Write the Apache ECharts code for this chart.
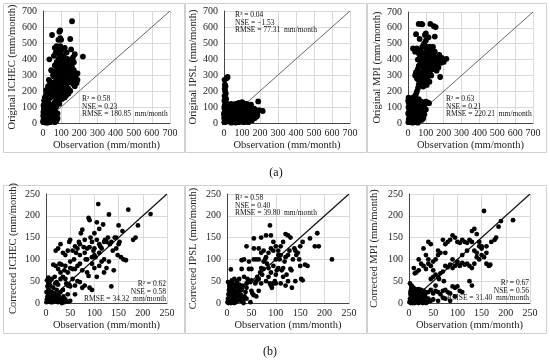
<!DOCTYPE html>
<html><head><meta charset="utf-8">
<script src="https://cdn.jsdelivr.net/npm/echarts@6/dist/echarts.min.js"></script>
<style>html,body{margin:0;padding:0;background:#fff}#c{width:550px;height:363px}</style>
</head><body><div id="c"></div>
<script>
// ---- Data (mm/month) ----
const topTicks = [0,100,200,300,400,500,600,700];
const bottomTicks = [0,50,100,150,200,250];
const oneToOneTop = [[0,0],[700,700]];
const oneToOneBottom = [[0,0],[250,250]];

const originalICHEC = [
[2,5],[3,20],[5,40],[4,60],[6,80],[8,100],[3,110],[10,10],[12,30],[14,50],[10,70],[15,90],[18,115],[20,8],[22,25],[25,45],[20,65],[28,85],[30,105],[32,15],[35,35],[38,55],[40,75],[42,95],[45,20],[48,40],[50,60],[55,30],[60,25],[65,35],[70,20],[58,50],[52,80],[46,110],[35,120],[25,125],[15,130],[8,120],[5,90],[2,70],[1,45],[7,30],[12,5],[18,2],[28,3],[40,5],[1,10],[6,140],[10,160],[14,150],[20,180],[25,170],[30,140],[35,190],[40,160],[45,175],[50,200],[55,185],[60,165],[48,220],[42,240],[38,260],[32,270],[50,250],[55,230],[60,215],[65,240],[70,195],[75,180],[80,210],[85,225],[90,200],[95,180],[100,165],[110,190],[120,160],[130,175],[140,185],[150,200],[65,130],[75,150],[85,140],[62,110],[72,100],[95,150],[75,15],[80,30],[65,5],[30,60],[22,100],[12,85],[38,85],[55,100],[68,70],[80,60],[90,120],[105,150],[115,210],[125,200],[140,215],[105,225],[28,230],[18,205],
[60,290],[70,310],[75,330],[80,280],[85,350],[90,300],[95,270],[100,320],[105,345],[110,300],[115,280],[120,330],[125,310],[130,360],[135,290],[140,340],[145,300],[150,320],[155,280],[160,350],[165,300],[170,330],[175,260],[180,290],[190,310],[190,270],[185,250],[175,230],[165,245],[150,255],[140,260],[130,240],[120,250],[110,260],[100,240],[90,250],[80,240],[70,260],[65,360],[75,380],[85,400],[95,370],[105,390],[115,420],[125,380],[135,400],[145,370],[155,390],[165,410],[175,430],[220,415],[60,420],[70,440],[80,460],[90,430],[100,450],[110,410],[120,470],[130,440],[95,480],[75,480],[65,470],[85,520],[95,530],[100,520],[90,570],[95,578],[50,550],[150,525],[155,460],[160,636],[35,398],[120,345],[140,310],[110,355],[85,320],[90,340],[100,290],[130,330],[145,350],[170,380],[60,320],[55,300],[45,330]
];
const originalIPSL = [
[3,270],[20,288],[15,280],[5,240],[8,230],[4,215],[6,200],[10,185],[3,170],[7,160],[12,150],[2,140],[9,130],[14,120],[5,115],[18,110],
[2,5],[5,20],[8,40],[10,60],[12,80],[15,100],[3,90],[6,70],[1,50],[20,10],[22,30],[25,50],[28,70],[30,90],[32,105],[35,15],[38,35],[40,55],[42,75],[45,95],[48,110],[50,5],[52,25],[55,45],[58,65],[60,85],[62,105],[65,120],[68,10],[70,30],[72,50],[75,70],[78,90],[80,110],[82,125],[85,20],[88,40],[90,60],[92,80],[95,100],[98,115],[100,130],[102,15],[105,35],[108,55],[110,75],[112,95],[115,110],[118,120],[120,25],[122,45],[125,65],[128,85],[130,100],[132,115],[135,30],[138,50],[140,70],[142,90],[145,105],[148,40],[150,60],[152,80],[155,95],[158,50],[160,70],[165,55],[170,65],[175,45],[180,60],[185,50],[190,135],[215,75],[195,80],[168,90],[162,35],[140,20],[125,10],[110,5],[95,8],[80,5],[65,3],[40,2],[28,20],[18,45],[14,65],[25,85],[35,100],[55,115],[70,95],[88,100],[105,125],[120,105],[135,90],[150,115],[145,75],[130,55],[115,40],[100,50],[85,60],[70,70],[55,80],[45,60],[35,45],[25,35],[15,25],[10,15],[4,5],[1,30],[0,60],[2,100],[118,70],[128,40],[138,110],[92,25],[78,45],[60,20],[48,85],[150,30],
[10,110],[25,115],[40,120],[55,100],[75,115],[90,120],[110,120],[125,120],[140,100],[160,85],[170,80],[178,70],[182,40],[170,30],[155,15],[135,5],[115,15],[100,20],[85,85],[65,60],[50,40],[30,60],[20,95]
];
const originalMPI = [
[2,5],[4,25],[6,50],[8,75],[3,100],[5,125],[10,150],[12,10],[15,35],[18,60],[20,85],[22,110],[25,140],[28,160],[30,20],[32,45],[35,70],[38,95],[40,120],[42,145],[45,5],[48,30],[50,55],[52,80],[55,105],[58,130],[60,150],[62,15],[65,40],[68,65],[70,90],[72,115],[75,135],[78,20],[80,50],[85,75],[90,100],[95,125],[100,135],[110,130],[118,125],[1,60],[7,90],[14,130],[24,155],[36,165],[44,180],[50,200],[56,220],[60,240],[65,250],[16,5],[26,2],[35,8],[55,2],[85,30],[92,55],[100,85],[12,115],[1,140],[3,160],[20,40],[30,100],[45,90],[10,30],[25,65],
[40,300],[45,320],[50,280],[55,340],[60,360],[65,300],[70,380],[75,320],[80,400],[85,350],[90,420],[95,380],[100,400],[105,360],[110,430],[115,390],[120,410],[125,370],[130,440],[135,400],[140,380],[145,420],[150,360],[155,400],[160,380],[165,410],[170,390],[175,430],[180,400],[185,380],[190,410],[215,405],[180,290],[200,385],[70,260],[80,280],[90,300],[100,270],[110,290],[120,260],[130,300],[95,250],[105,240],[60,270],[75,240],[85,230],[28,470],[40,450],[50,470],[60,440],[70,460],[80,480],[90,500],[100,520],[110,480],[120,460],[130,450],[140,480],[150,450],[115,540],[95,555],[100,565],[45,560],[150,545],[60,625],[75,625],[80,622],[125,625],[145,610],[155,605],[65,530],[85,440],[105,470],[125,480],[145,340],[135,340],[160,330],[125,330],[115,320],[100,330],[90,360],[75,420],[65,410],[55,400],[110,360],[170,350],[140,440],[120,440],[95,440]
];
const correctedICHEC = [
[1,2],[2,8],[3,15],[4,5],[5,22],[6,30],[7,3],[8,12],[9,40],[10,18],[11,6],[12,25],[13,2],[14,10],[15,35],[16,15],[17,5],[18,22],[19,45],[20,8],[21,3],[22,30],[23,12],[25,2],[26,18],[28,6],[30,25],[32,10],[34,4],[36,15],[38,2],[40,8],[2,52],[5,58],[8,50],[3,38],[12,55],[18,60],[22,48],[6,45],[1,25],[10,2],[27,10],[33,0],[45,3],[50,5],
[15,88],[20,85],[25,78],[28,90],[30,70],[32,88],[35,60],[38,75],[40,55],[42,45],[45,40],[48,42],[50,38],[20,120],[25,125],[30,135],[35,115],[40,110],[45,120],[48,140],[50,145],[55,120],[58,100],[60,78],[62,115],[65,125],[68,140],[70,110],[72,160],[75,168],[78,128],[80,115],[82,100],[85,125],[88,195],[90,190],[92,150],[95,140],[98,120],[100,110],[102,105],[105,185],[108,227],[110,135],[112,130],[115,125],[118,180],[120,140],[122,145],[125,140],[128,150],[130,203],[132,135],[135,140],[138,120],[140,75],[142,150],[145,150],[148,110],[150,178],[152,140],[155,105],[158,165],[160,100],[165,98],[170,214],[180,145],[185,150],[190,178],[216,204],[95,90],[100,80],[105,60],[90,35],[95,30],[80,40],[75,35],[70,48],[65,50],[60,40],[55,55],[85,70],[88,62],[110,85],[115,95],[120,70],[125,80],[130,95],[95,105],[100,125],[105,145],[110,115],[75,75],[65,85],[70,90],[60,20],[30,55],[35,30],[45,20],[50,80],[55,78],[135,38],[145,125],[150,135],[120,100],[90,128],[80,145],[100,160],[110,170],[85,100],[70,135],[60,130],[40,85],[50,95],[45,70],[25,42],[15,18]
];
const correctedIPSL = [
[1,2],[2,10],[3,20],[4,30],[5,40],[6,5],[7,15],[8,25],[9,35],[10,45],[11,2],[12,12],[13,22],[14,32],[15,42],[16,8],[17,18],[18,28],[19,38],[20,45],[21,5],[22,15],[23,25],[24,35],[25,42],[26,10],[28,20],[30,30],[32,40],[34,0],[36,15],[38,25],[40,35],[3,0],[8,0],[15,0],[2,48],[6,38],[10,28],[14,18],[18,2],[22,40],[27,32],[33,8],[8,77],
[35,60],[40,45],[42,55],[45,50],[48,48],[50,52],[52,22],[55,18],[58,45],[60,50],[62,60],[65,55],[68,70],[70,80],[72,65],[75,95],[78,100],[80,105],[82,90],[85,60],[88,45],[90,40],[92,35],[95,45],[98,50],[100,45],[102,75],[105,80],[108,100],[110,110],[112,75],[115,80],[118,95],[120,105],[122,65],[125,110],[128,120],[130,78],[132,75],[135,100],[138,125],[140,120],[142,110],[145,115],[148,100],[150,85],[152,55],[155,52],[160,88],[165,85],[170,148],[180,130],[185,160],[188,130],[215,100],[120,158],[125,155],[130,150],[150,130],[155,140],[88,178],[80,155],[90,155],[55,148],[65,125],[55,125],[40,130],[30,98],[35,100],[45,78],[50,78],[55,100],[60,100],[65,100],[70,115],[75,120],[85,115],[90,125],[95,120],[100,130],[105,110],[110,130],[95,85],[85,80],[75,78],[70,45],[65,28],[60,15],[50,28],[110,45],[120,40],[133,35],[100,65],[90,70],[115,60],[125,50],[140,50],[80,50],[100,100],[105,120],[115,140],[95,140],[70,150],[45,95],[30,78],[25,55],[20,50],[15,55],[10,52],[28,5],[40,10],[30,12],[48,2]
];
const correctedMPI = [
[1,2],[2,10],[3,20],[4,30],[5,40],[6,5],[7,15],[8,25],[9,35],[10,3],[11,12],[12,22],[13,32],[14,8],[15,18],[16,28],[17,2],[18,12],[19,22],[20,32],[21,6],[22,16],[23,26],[24,3],[25,12],[26,22],[28,8],[30,18],[32,4],[34,14],[36,24],[38,2],[40,10],[2,45],[4,0],[8,0],[12,0],[20,0],[28,0],[35,0],[45,5],[50,8],[10,80],[12,68],[15,70],[6,38],[3,25],
[40,25],[45,30],[50,22],[55,28],[60,25],[65,20],[70,28],[75,30],[80,25],[85,22],[90,38],[95,35],[100,38],[105,28],[110,25],[25,30],[30,28],[35,25],[60,5],[75,10],
[30,85],[35,78],[40,90],[45,85],[50,75],[55,65],[60,60],[62,55],[65,68],[70,72],[72,50],[75,85],[80,82],[85,88],[90,80],[95,85],[100,90],[105,85],[110,92],[115,88],[120,90],[125,85],[130,80],[135,90],[140,105],[145,100],[150,110],[155,105],[160,90],[165,85],[168,88],[150,125],[145,130],[140,115],[135,120],[160,130],[170,140],[130,140],[125,145],[120,138],[115,140],[110,145],[105,138],[100,140],[95,150],[90,155],[85,145],[80,140],[75,135],[70,145],[65,115],[60,120],[55,100],[50,95],[45,135],[40,140],[30,125],[35,110],[25,90],[20,75],[20,100],[40,100],[60,110],[75,115],[90,100],[100,95],[110,110],[120,120],[130,165],[135,170],[140,158],[145,140],[150,130],[155,211],[190,188],[215,190],[185,175],[177,145],[167,87],[180,150],[160,115],[125,50],[130,40],[95,15],[85,5],[70,12],[55,40],[50,60],[45,55]
];

const yTitles = ['Original ICHEC (mm/month)','Original IPSL (mm/month)','Original MPI (mm/month)',
  'Corrected ICHEC (mm/month)','Corrected IPSL (mm/month)','Corrected MPI (mm/month)'];
const xTitle = 'Observation (mm/month)';
const statsTexts = [
  ['R\u00B2 = 0.58','NSE = 0.23','RMSE = 180.85  mm/month'],
  ['R\u00B2 = 0.04','NSE = \u22121.53','RMSE = 77.31  mm/month'],
  ['R\u00B2 = 0.63','NSE = 0.21','RMSE = 220.21  mm/month'],
  ['R\u00B2 = 0.62','NSE = 0.58','RMSE = 34.32  mm/month'],
  ['R\u00B2 = 0.58','NSE = 0.40','RMSE = 39.80  mm/month'],
  ['R\u00B2 = 0.67','NSE = 0.56','RMSE = 31.40  mm/month']
];
const captions = ['(a)','(b)'];

// ---- Layout ----
const FONT = '"Liberation Serif","Times New Roman",serif';
const panels = [
  {box:[3,3,181,149], grid:{left:43,top:11,width:127,height:112}, max:700, step:100, data:originalICHEC, diag:oneToOneTop, yGap:24, xGap:17, stat:{x:82,y:95,align:'left'}, size:5.8},
  {box:[185,3,181,149], grid:{left:224,top:11,width:126,height:112}, max:700, step:100, data:originalIPSL, diag:oneToOneTop, yGap:23, xGap:17, stat:{x:235,y:11,align:'left'}, size:5.8},
  {box:[367,3,179,149], grid:{left:408,top:12,width:125,height:111}, max:700, step:100, data:originalMPI, diag:oneToOneTop, yGap:22, xGap:17, stat:{x:446,y:95,align:'left'}, size:5.8},
  {box:[3,185,181,148], grid:{left:46,top:194,width:121,height:109}, max:250, step:50, data:correctedICHEC, diag:oneToOneBottom, yGap:27, xGap:17, stat:{x:166,y:280,align:'right'}, size:4.8},
  {box:[185,185,181,148], grid:{left:227,top:194,width:122,height:109}, max:250, step:50, data:correctedIPSL, diag:oneToOneBottom, yGap:28, xGap:17, stat:{x:235,y:194,align:'left'}, size:4.8},
  {box:[367,185,179,148], grid:{left:409,top:194,width:121,height:109}, max:250, step:50, data:correctedMPI, diag:oneToOneBottom, yGap:29, xGap:17, stat:{x:529,y:279,align:'right'}, size:4.8}
];
</script>
<script>
const chart = echarts.init(document.getElementById('c'), null, {renderer:'canvas'});
const grids=[], xAxes=[], yAxes=[], series=[], graphics=[];
panels.forEach((p,i)=>{
  grids.push(Object.assign({containLabel:false}, p.grid));
  const axisCommon = {
    min:0, max:p.max, interval:p.step,
    axisLine:{show:true, onZero:false, lineStyle:{color:'#444', width:1}},
    axisTick:{show:false},
    splitLine:{show:true, lineStyle:{color:'#d9d9d9', width:1}},
    axisLabel:{fontFamily:FONT, fontSize:10, color:'#222'},
    nameLocation:'middle',
    nameTextStyle:{fontFamily:FONT, fontSize:10.5, color:'#222'}
  };
  xAxes.push(Object.assign({}, axisCommon, {gridIndex:i, type:'value', name:xTitle, nameGap:p.xGap,
    axisLabel:Object.assign({}, axisCommon.axisLabel, {margin:5})}));
  yAxes.push(Object.assign({}, axisCommon, {gridIndex:i, type:'value', name:yTitles[i], nameGap:p.yGap,
    axisLabel:Object.assign({}, axisCommon.axisLabel, {margin:6})}));
  series.push({type:'line', xAxisIndex:i, yAxisIndex:i, data:p.diag, symbol:'none', silent:true, z:1,
    lineStyle:{color: i<3 ? '#666' : '#111', width: i<3 ? 1 : 1.2}});
  series.push({type:'scatter', xAxisIndex:i, yAxisIndex:i, data:p.data, symbol:'circle', symbolSize:p.size, z:2,
    itemStyle:{color:'#000', opacity:1}});
  graphics.push({type:'rect', z:-10, shape:{x:p.box[0]+0.5, y:p.box[1]+0.5, width:p.box[2], height:p.box[3]},
    style:{fill:'none', stroke:'#d0d0d0', lineWidth:1}});
  graphics.push({type:'text', z:10, x:p.stat.x, y:p.stat.y,
    style:{text:statsTexts[i].join('\n'), fontFamily:FONT, fontSize:7.5, lineHeight:7.8, fill:'#111',
      align:p.stat.align, verticalAlign:'top'}});
});
graphics.push({type:'text', x:276, y:173, style:{text:captions[0], fontFamily:FONT, fontSize:12, fill:'#111', align:'center', verticalAlign:'middle'}});
graphics.push({type:'text', x:270, y:352, style:{text:captions[1], fontFamily:FONT, fontSize:12, fill:'#111', align:'center', verticalAlign:'middle'}});
chart.setOption({animation:false, backgroundColor:'#fff', grid:grids, xAxis:xAxes, yAxis:yAxes, series:series, graphic:graphics});
</script>
</body></html>
